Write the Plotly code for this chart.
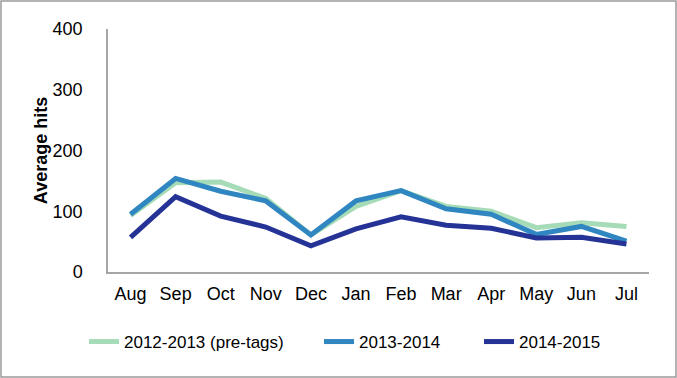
import plotly.graph_objects as go

months = ["Aug", "Sep", "Oct", "Nov", "Dec", "Jan", "Feb", "Mar", "Apr", "May", "Jun", "Jul"]
s2012 = [93, 147, 148, 121, 61, 108, 134, 108, 100, 73, 81, 75]
s2013 = [95, 154, 133, 117, 61, 117, 134, 104, 95, 62, 75, 51]
s2014 = [57, 124, 92, 74, 43, 71, 91, 77, 72, 56, 57, 46]
names = ["2012-2013 (pre-tags)", "2013-2014", "2014-2015"]
colors = ["#a5dbb6", "#2f86c0", "#263396"]

W, H = 677, 378
ml, mr, mt, mb = 108, 28, 29, 106
pw = W - ml - mr
ph = H - mt - mb

legend_ids = ["legend", "legend2", "legend3"]
legend_text_left = [129, 364, 524]  # placement of each legend entry (pixels)

fig = go.Figure()
for name, vals, c, lid in zip(names, [s2012, s2013, s2014], colors, legend_ids):
    fig.add_trace(go.Scatter(x=months, y=vals, name=name, mode="lines",
                             line=dict(color=c, width=5), legend=lid))

fig.add_shape(type="rect", xref="paper", yref="paper",
              x0=(-ml + 1) / pw, x1=(pw + mr - 1) / pw,
              y0=(-mb + 1) / ph, y1=(ph + mt - 1) / ph,
              line=dict(color="#9a9a9a", width=1.5), layer="below")

legend_common = dict(orientation="h", xanchor="left", yanchor="middle",
                     y=(-70) / ph, font=dict(size=17), itemwidth=30,
                     bgcolor="rgba(0,0,0,0)")
legends = {}
for lid, tl in zip(legend_ids, legend_text_left):
    legends[lid] = dict(legend_common, x=(tl - 45 - ml) / pw)

fig.update_layout(
    width=W, height=H,
    margin=dict(l=ml, r=mr, t=mt, b=mb, autoexpand=False),
    paper_bgcolor="white", plot_bgcolor="white",
    font=dict(family="Liberation Sans, Arial, sans-serif", size=16, color="#000"),
    showlegend=True,
    xaxis=dict(showline=True, linecolor="#a6a6a6", linewidth=1.5, showgrid=False,
               ticks="", range=[-0.5, 11.5], tickfont=dict(size=18),
               ticklabelstandoff=5, automargin=False),
    yaxis=dict(showline=True, linecolor="#a6a6a6", linewidth=1.5, showgrid=False,
               range=[0, 400], dtick=100, ticks="", zeroline=False, automargin=False,
               ticklabelstandoff=20, tickfont=dict(size=18),
               title=dict(text="<b>Average hits</b>", font=dict(size=18), standoff=0)),
    **legends,
)

fig.write_html("out.html", config={"displayModeBar": False},
               post_script="document.body.style.margin='0';document.body.style.overflow='hidden';")
